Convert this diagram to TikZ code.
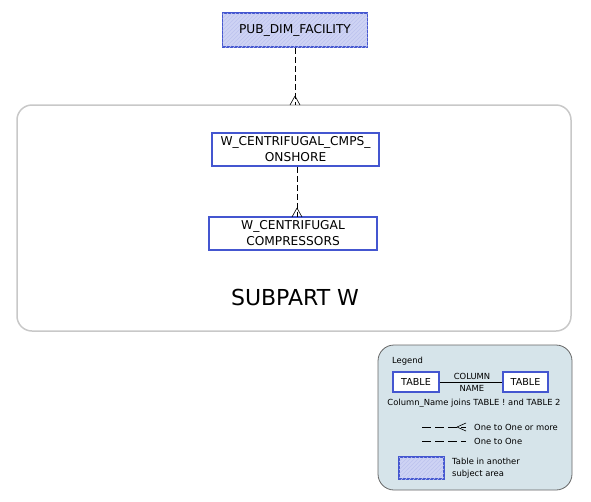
\documentclass[tikz,border=0pt]{standalone}
\usepackage{fontspec}
\setmainfont{DejaVu Sans}
\usetikzlibrary{patterns}
\definecolor{tblue}{RGB}{68,86,208}
\definecolor{hatchfill}{RGB}{206,211,244}
\definecolor{hatchline}{RGB}{188,195,238}
\definecolor{areagray}{RGB}{200,200,200}
\definecolor{legfill}{RGB}{214,228,234}
\pgfdeclarepatternformonly{sparselines}{\pgfqpoint{-1pt}{-1pt}}{\pgfqpoint{5pt}{5pt}}{\pgfqpoint{4pt}{4pt}}{%
  \pgfsetlinewidth{0.6pt}
  \pgfpathmoveto{\pgfqpoint{0pt}{0pt}}
  \pgfpathlineto{\pgfqpoint{4.1pt}{4.1pt}}
  \pgfusepath{stroke}}
\tikzset{
  tbl/.style={draw=tblue, line width=1.6pt, fill=white, inner sep=0pt, align=center, font=\fontsize{12.2}{16}\selectfont},
  other/.style={tbl, fill=hatchfill, postaction={pattern=sparselines, pattern color=hatchline}},
  rel/.style={dash pattern=on 6pt off 3pt, line width=0.8pt},
  lrel/.style={dash pattern=on 9pt off 4pt, line width=0.7pt},
  ltxt/.style={font=\fontsize{8.4}{11.5}\selectfont, inner sep=0pt}
}
\begin{document}
\begin{tikzpicture}[x=1pt,y=-1pt]
\useasboundingbox (0,0) rectangle (591,501);
% subject area
\draw[areagray, line width=1.5pt, rounded corners=15pt] (17,105) rectangle (571,331);
\node[font=\fontsize{22}{26}\selectfont] (sa) at (295,297) {SUBPART W};
% tables
\node[other, minimum width=145pt, minimum height=34pt] (pub) at (295,30) {PUB\_DIM\_FACILITY};
\node[tbl, minimum width=167pt, minimum height=33pt] (on) at (295.5,149.5) {W\_CENTRIFUGAL\_CMPS\_\\ONSHORE};
\node[tbl, minimum width=168pt, minimum height=33pt] (cmp) at (293,233.5) {W\_CENTRIFUGAL\\COMPRESSORS};
\coordinate (e1) at (295,105);
\coordinate (e2) at (297,217);
% connectors
\draw[rel] (pub.south -| e1) -- (e1);
\draw[line width=0.6pt] (295,96) -- (290,105) (295,96) -- (300,105);
\draw[rel] (on.south -| e2) -- (e2);
\draw[line width=0.6pt] (297,208) -- (292,217) (297,208) -- (302,217);
% legend
\draw[gray!80!black, line width=0.8pt, fill=legfill, rounded corners=16pt] (378,345) rectangle (572,490);
\node[ltxt, anchor=west] (lg) at (392,361) {Legend};
\node[tbl, font=\fontsize{9.6}{11}\selectfont, minimum width=46pt, minimum height=20pt, line width=1.4pt] (t1) at (416,382) {TABLE};
\node[tbl, font=\fontsize{9.6}{11}\selectfont, minimum width=45pt, minimum height=20pt, line width=1.4pt] (t2) at (525.5,382) {TABLE};
\draw[line width=0.6pt] (t1.east) -- (t2.west);
\node[ltxt, fill=legfill, inner sep=0.3pt] (cn1) at (472,376.5) {COLUMN};
\node[ltxt, fill=legfill, inner sep=0.3pt] (cn2) at (472,388.5) {NAME};
\draw[line width=0.6pt] (460,382) -- (491,382);
\node[ltxt] (jn) at (474,403) {Column\_Name joins TABLE ! and TABLE 2};
\coordinate (a1) at (422,427);
\coordinate (a2) at (466,427);
\draw[lrel] (a1) -- (a2);
\draw[line width=0.6pt] (457,427) -- (466,423) (457,427) -- (466,431);
\node[ltxt, anchor=west] (om) at (474,427) {One to One or more};
\coordinate (b1) at (422,441);
\coordinate (b2) at (466,441);
\draw[lrel] (b1) -- (b2);
\node[ltxt, anchor=west] (oo) at (474,441) {One to One};
\node[other, minimum width=45pt, minimum height=22pt, line width=1.4pt] (hb) at (421.5,468) {};
\node[ltxt, anchor=west, align=left] (ta) at (452,468) {Table in another\\subject area};
\end{tikzpicture}
\end{document}
